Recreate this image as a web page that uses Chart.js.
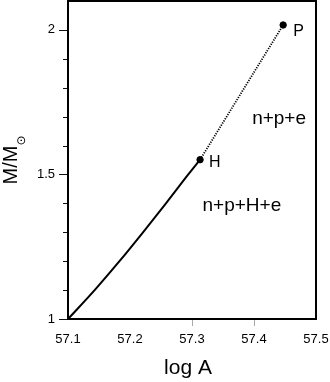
<!DOCTYPE html>
<html>
<head>
<meta charset="utf-8">
<script src="https://cdn.jsdelivr.net/npm/chart.js@4.4.1/dist/chart.umd.min.js"></script>
<style>
  body { margin: 0; background: #fff; }
  canvas { display: block; }
</style>
</head>
<body>
<canvas id="massChart" width="330" height="382"></canvas>
<script>
// curva M/Msol vs log A
const logASolid = [57.100, 57.143, 57.183, 57.221, 57.258, 57.294, 57.313];
const massSolid = [1.000, 1.100, 1.200, 1.300, 1.400, 1.500, 1.551];
const logADotted = [57.313, 57.447];
const massDotted = [1.551, 2.017];
const markerNames = ['H', 'P'];
const markerLogA = [57.313, 57.447];
const markerMass = [1.551, 2.017];
const regionNames = ['n+p+e', 'n+p+H+e'];
const regionLogA = [57.397, 57.317];
const regionMass = [1.676, 1.372];
const xTickLabels = ['57.1', '57.2', '57.3', '57.4', '57.5'];
const yTickLabels = ['1', '1.5', '2'];
const xTickMarks = [57.3, 57.4];

const FONT = '"Liberation Sans", Arial, Helvetica, sans-serif';

const toPoints = (xs, ys) => xs.map((x, i) => ({ x: x, y: ys[i] }));

const extras = {
    id: 'extras',
    afterDraw(chart) {
        const c = chart.ctx;
        const a = chart.chartArea;
        const xs = chart.scales.x;
        const ys = chart.scales.y;
        c.save();

        // ticks eje y (sin el tope)
        c.strokeStyle = '#111';
        c.lineWidth = 1;
        ys.ticks.forEach(t => {
            if (t.value > 2.05) return;
            const py = Math.round(ys.getPixelForValue(t.value)) + 0.5;
            const major = yTickLabels.includes(String(Math.round(t.value * 10) / 10));
            c.beginPath();
            c.moveTo(a.left - (major ? 9 : 5), py);
            c.lineTo(a.left, py);
            c.stroke();
        });

        // ticks eje x
        c.strokeStyle = '#aaa';
        xTickMarks.forEach(v => {
            const px = Math.round(xs.getPixelForValue(v)) + 0.5;
            c.beginPath();
            c.moveTo(px, a.bottom);
            c.lineTo(px, a.bottom + 7);
            c.stroke();
        });

        // marco
        c.strokeStyle = '#000';
        c.lineWidth = 2;
        c.strokeRect(a.left, a.top, a.right - a.left, a.bottom - a.top);

        // etiquetas de puntos
        c.fillStyle = '#000';
        c.textBaseline = 'alphabetic';
        c.font = '16px ' + FONT;
        markerNames.forEach((n, i) => {
            const px = xs.getPixelForValue(markerLogA[i]);
            const py = ys.getPixelForValue(markerMass[i]);
            c.fillText(n, px + (n === 'P' ? 10 : 9), py + (n === 'P' ? 11 : 7));
        });

        // regiones
        c.font = '19px ' + FONT;
        regionNames.forEach((n, i) => {
            c.fillText(n, xs.getPixelForValue(regionLogA[i]), ys.getPixelForValue(regionMass[i]));
        });

        // titulo eje x
        c.font = '21px ' + FONT;
        c.textAlign = 'center';
        c.fillText('log A', (a.left + a.right) / 2 - 4, 374);

        // titulo eje y con subindice
        c.translate(17, (a.top + a.bottom) / 2);
        c.rotate(-Math.PI / 2);
        c.textAlign = 'left';
        c.font = '20px ' + FONT;
        const main = 'M/M';
        const wMain = c.measureText(main).width;
        c.font = '12px "DejaVu Sans", ' + FONT;
        const wSun = c.measureText('\u2299').width;
        const x0 = -(wMain + wSun) / 2;
        c.font = '20px ' + FONT;
        c.fillText(main, x0, 0);
        c.font = '12px "DejaVu Sans", ' + FONT;
        c.fillText('\u2299', x0 + wMain, 8);
        c.restore();
    }
};

const ctx = document.getElementById('massChart').getContext('2d');
const massChart = new Chart(ctx, {
    type: 'scatter',
    data: {
        datasets: [{
            data: toPoints(logASolid, massSolid),
            showLine: true,
            borderColor: '#000',
            borderWidth: 2,
            pointRadius: 0,
            cubicInterpolationMode: 'monotone'
        }, {
            data: toPoints(logADotted, massDotted),
            showLine: true,
            borderColor: '#000',
            borderWidth: 1.8,
            borderDash: [1.2, 1.3],
            pointRadius: 0
        }, {
            data: toPoints(markerLogA, markerMass),
            showLine: false,
            pointRadius: 3.2,
            pointBackgroundColor: '#000',
            pointBorderColor: '#000'
        }]
    },
    options: {
        responsive: false,
        animation: false,
        layout: { autoPadding: false, padding: { top: 1, right: 14, left: 0, bottom: 0 } },
        plugins: {
            legend: { display: false },
            tooltip: { enabled: false }
        },
        scales: {
            x: {
                type: 'linear',
                min: 57.1,
                max: 57.5,
                grid: { display: false, drawTicks: false },
                border: { display: false },
                ticks: {
                    stepSize: 0.1,
                    padding: 13,
                    color: '#000',
                    font: { family: FONT, size: 13 },
                    callback: (v, i) => xTickLabels[i]
                },
                afterFit: s => {
                    s.height = 63;
                    s.paddingLeft = 0;
                    s.paddingRight = 0;
                }
            },
            y: {
                min: 1,
                max: 2.1,
                grid: { display: false, drawTicks: false },
                border: { display: false },
                ticks: {
                    stepSize: 0.1,
                    padding: 13,
                    color: '#000',
                    font: { family: FONT, size: 13 },
                    callback: v => {
                        const s = String(Math.round(v * 10) / 10);
                        return yTickLabels.includes(s) ? s : '';
                    }
                },
                afterFit: s => {
                    s.width = 68;
                    s.paddingTop = 0;
                    s.paddingBottom = 0;
                }
            }
        }
    },
    plugins: [extras]
});
</script>
</body>
</html>
